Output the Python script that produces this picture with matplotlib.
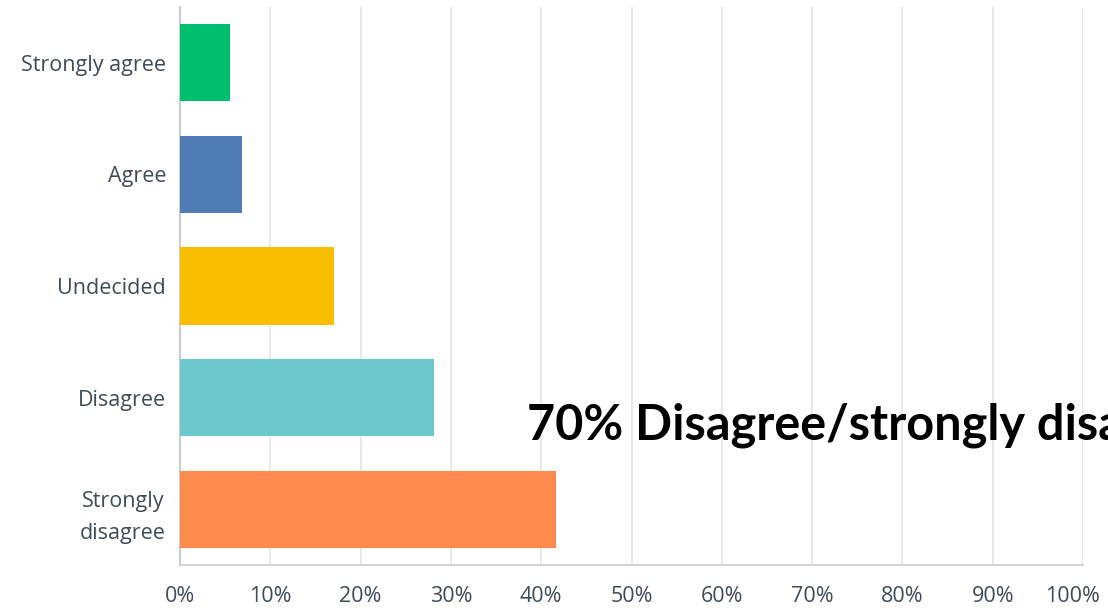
import matplotlib
matplotlib.use('Agg')
import matplotlib.pyplot as plt
import matplotlib.transforms as mtransforms
from matplotlib.ticker import FuncFormatter

# survey answers, top to bottom
answers = ['Strongly agree', 'Agree', 'Undecided', 'Disagree', 'Strongly\ndisagree']
pct = [5.5, 6.9, 17.1, 28.1, 41.6]
colors = ['#00bf6f', '#507cb6', '#f9be00', '#6bc8cd', '#ff8b4f']
xticks = list(range(0, 101, 10))

plt.rcParams['font.family'] = ['Open Sans', 'DejaVu Sans']

fig = plt.figure(figsize=(11.08, 6.08), dpi=100)
ax = fig.add_axes([180/1108, 1-565/608, (1083-180)/1108, (565-7)/608])

ypos = list(range(len(answers)))[::-1]
ax.barh(ypos, pct, height=0.69, color=colors, zorder=3)

ax.set_xlim(0, 100)
ax.set_ylim(-0.5, 4.5)
ax.set_xticks(xticks)
ax.xaxis.set_major_formatter(FuncFormatter(lambda v, p: '%d%%' % v))
ax.set_yticks(ypos)
ax.set_yticklabels(answers, multialignment='center', linespacing=1.7)
ax.tick_params(axis='x', length=0, pad=15, labelsize=15.5, labelcolor='#3f4b57')
ax.tick_params(axis='y', length=0, pad=10, labelsize=15.5, labelcolor='#3f4b57')
ax.grid(axis='x', color='#e6e6e6', lw=1.2, zorder=0)
for s in ['top', 'right']:
    ax.spines[s].set_visible(False)
ax.spines['left'].set_color('#cccccc')
ax.spines['left'].set_linewidth(1.5)
ax.spines['bottom'].set_color('#d3d3d3')
ax.spines['bottom'].set_linewidth(1.5)

# nudge the 100% label left so it stays inside the figure
last = ax.get_xticklabels()[-1]
last.set_transform(last.get_transform() +
                   mtransforms.ScaledTranslation(-0.11, 0, fig.dpi_scale_trans))

fig.text(527/1108, 1-440/608, '70% Disagree/strongly disagree', fontsize=35,
         fontweight='bold', family=['Lato', 'DejaVu Sans'], color='black',
         ha='left', va='baseline')

fig.savefig('out.png', dpi=100)
